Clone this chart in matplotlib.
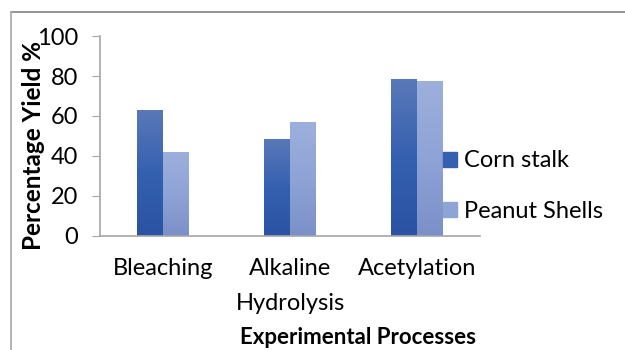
import matplotlib
matplotlib.use("Agg")
import matplotlib.pyplot as plt
import numpy as np
from matplotlib.colors import LinearSegmentedColormap
from matplotlib.lines import Line2D

plt.rcParams['font.family'] = ['Lato', 'DejaVu Sans']

# data
processes = ['Bleaching', 'Alkaline\nHydrolysis', 'Acetylation']
corn_stalk = [63, 48.5, 78.5]
peanut_shells = [42, 57, 77.5]
series_names = ['Corn stalk', 'Peanut Shells']

fs = 17

fig = plt.figure(figsize=(6.25, 3.5), dpi=100)
ax = fig.add_axes([0.16, 0.326, 0.608, 0.571])

x = np.arange(len(processes))
w = 0.205
b1 = ax.bar(x - w / 2, corn_stalk, w, color='#3a60ad', label=series_names[0])
b2 = ax.bar(x + w / 2, peanut_shells, w, color='#8ea2d4', label=series_names[1])

# vertical gradient fill for each bar
grads = [
    LinearSegmentedColormap.from_list('c', ['#2b52a3', '#3560b0', '#5a78b8']),
    LinearSegmentedColormap.from_list('p', ['#7a90c8', '#8ea3d6', '#9db0dc']),
]
grad = np.linspace(0, 1, 256).reshape(-1, 1)
for bars, cm in zip([b1, b2], grads):
    for p in bars:
        bx, by = p.get_x(), p.get_y()
        bw, bh = p.get_width(), p.get_height()
        im = ax.imshow(grad, cmap=cm, origin='lower', aspect='auto',
                       extent=[bx, bx + bw, by, by + bh], zorder=p.get_zorder())
        im.set_clip_path(p)
        p.set_facecolor('none')
        p.set_edgecolor('none')

ax.set_xlim(-0.5, 2.5)
ax.set_ylim(0, 100)
ax.set_yticks([0, 20, 40, 60, 80, 100])
ax.set_xticks(x)
ax.set_xticklabels(processes, linespacing=1.8)
ax.tick_params(axis='y', labelsize=fs, length=6, color='#a6a6a6', pad=10)
ax.tick_params(axis='x', labelsize=fs, length=0, pad=16)
for s in ['top', 'right']:
    ax.spines[s].set_visible(False)
for s in ['left', 'bottom']:
    ax.spines[s].set_color('#a6a6a6')
    ax.spines[s].set_linewidth(1.2)

ax.set_ylabel('Percentage Yield %', fontsize=17.5, fontweight='bold')
ax.yaxis.set_label_coords(-0.145, 0.45)
fig.text(0.573, 0.037, 'Experimental Processes', fontsize=16, fontweight='bold',
         ha='center', va='center')

handles = [plt.Rectangle((0, 0), 1, 1, color='#3560b0'),
           plt.Rectangle((0, 0), 1, 1, color='#8ea3d6')]
fig.legend(handles, series_names, loc='center left', bbox_to_anchor=(0.708, 0.468),
           frameon=False, fontsize=fs, handlelength=0.6, handleheight=0.6,
           handletextpad=0.3, labelspacing=1.25, borderaxespad=0, borderpad=0)

# outer frame lines
fig.add_artist(Line2D([0.0176, 1.0], [0.9657, 0.9657], color='#8c8c8c', lw=1.3))
fig.add_artist(Line2D([0.0176, 0.0176], [0.0, 0.9657], color='#b0b0b0', lw=1.3))

fig.savefig('out.png', dpi=100)
